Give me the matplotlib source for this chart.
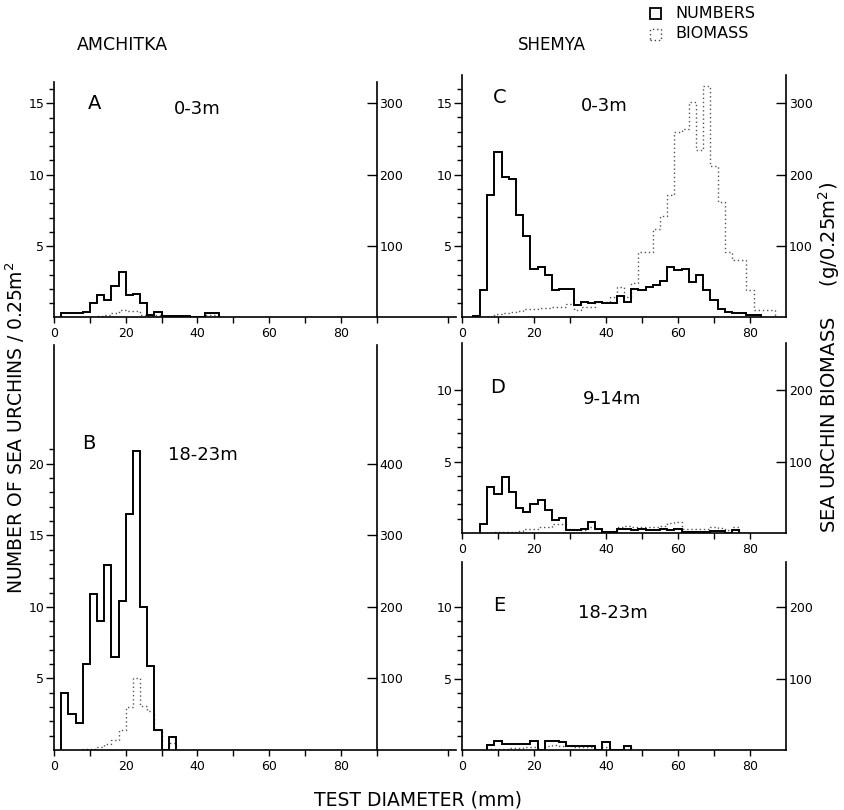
import matplotlib
matplotlib.use('Agg')
import matplotlib.pyplot as plt
from matplotlib.patches import Rectangle
from matplotlib.ticker import FixedLocator, FuncFormatter
import numpy as np

# size classes are 2 mm wide; *_start = lower edge of first class (mm)
# numbers = urchins / 0.25 m2, biomass = g / 0.25 m2
a_num_start = 2
a_numbers = [0.3, 0.3, 0.35, 0.4, 1.0, 1.6, 1.2, 2.2, 3.2, 1.6, 1.65, 1.0,
             0.2, 0.4, 0.1, 0.1, 0.1, 0.1, 0, 0, 0.3, 0.3]
a_bio_start = 10
a_biomass = [1, 2, 3, 7, 11, 9, 9, 4, 2, 4, 1, 1, 1, 1, 0, 0, 4, 4]

b_num_start = 2
b_numbers = [4.0, 2.5, 1.9, 6.0, 10.9, 9.0, 12.9, 6.5, 10.4, 16.5, 20.9, 10.0,
             5.9, 1.4, 0, 0.9]
b_bio_start = 8
b_biomass = [1, 2, 4, 8, 14, 28, 60, 100, 62, 55, 28, 0, 10]

c_num_start = 3
c_numbers = [0.1, 1.9, 8.6, 11.6, 9.8, 9.7, 7.2, 5.7, 3.4, 3.5, 3.0, 1.9, 2.0,
             2.0, 0.85, 1.1, 1.0, 1.05, 1.0, 1.0, 1.5, 1.1, 2.0, 1.9, 2.1, 2.3,
             2.55, 3.5, 3.3, 3.4, 2.45, 3.0, 1.9, 1.2, 0.6, 0.4, 0.3, 0.3, 0.15, 0.15]
c_bio_start = 7
c_biomass = [1, 5, 6, 8, 9, 12, 12, 13, 13, 14, 14, 19, 11, 15, 15, 22, 22, 29,
             42, 29, 48, 91, 92, 124, 142, 172, 260, 264, 302, 234, 324, 212,
             162, 92, 80, 80, 38, 10, 10, 10]

d_num_start = 5
d_numbers = [0.6, 3.25, 2.75, 3.9, 2.9, 1.75, 1.45, 2.0, 2.3, 1.6, 0.9, 1.05,
             0.2, 0.2, 0.3, 0.75, 0.3, 0.1, 0.1, 0.25, 0.3, 0.2, 0.25, 0.2, 0.2,
             0.25, 0.2, 0.25, 0.1, 0.1, 0.1, 0.1, 0.15, 0.15, 0.0, 0.2]
d_bio_start = 7
d_biomass = [0.5, 1, 1.5, 2, 3, 5, 6, 8, 9, 12, 12, 6, 4, 4, 8, 5, 2, 3, 8, 10,
             8, 9, 8, 9, 10, 14, 16, 6, 5, 6, 6, 8, 7, 4, 8]

e_num_start = 7
e_numbers = [0.35, 0.65, 0.4, 0.45, 0.45, 0.45, 0.63, 0, 0.63, 0.63, 0.55, 0.3,
             0.25, 0.25, 0.25, 0, 0.55, 0, 0, 0.3]
e_bio_start = 7
e_biomass = [1, 2, 2, 3, 3, 4, 4, 0, 6, 7, 6, 5, 4, 4, 4, 0, 4, 0, 0, 5]

W, H = 844, 810
fig = plt.figure(figsize=(W / 100, H / 100), dpi=100)
plt.rcParams['font.family'] = ['DejaVu Sans']

no_zero = FuncFormatter(lambda v, p: '' if abs(v) < 1e-9 else '%d' % v)


def px_rect(x0, x1, ytop, ybot):
    return [x0 / W, 1 - ybot / H, (x1 - x0) / W, (ybot - ytop) / H]


def panel(rect, xmax, ymax, numbers, n_start, biomass, b_start,
          letter, letter_xy, depth, depth_xy, major, minor_top, right_ticks):
    ax = fig.add_axes(rect)
    ax2 = ax.twinx()
    ax2.set_zorder(ax.get_zorder() - 1)
    ax.patch.set_visible(False)

    edges_n = n_start + 2 * np.arange(len(numbers) + 1)
    edges_b = b_start + 2 * np.arange(len(biomass) + 1)
    ax.stairs(numbers, edges_n, color='black', lw=1.4)
    ax2.stairs(biomass, edges_b, color='#555555', lw=1.0, linestyle=(0, (1, 2)))

    ax.set_xlim(0, xmax)
    ax.set_ylim(0, ymax)
    ax2.set_ylim(0, ymax * 20)

    for s in ['top', 'right']:
        ax.spines[s].set_visible(False)
    for s in ['top', 'left', 'bottom']:
        ax2.spines[s].set_visible(False)
    ax2.spines['right'].set_position(('data', 90))
    for sp in [ax.spines['left'], ax.spines['bottom'], ax2.spines['right']]:
        sp.set_linewidth(1.2)

    ax.xaxis.set_major_locator(FixedLocator([0, 20, 40, 60, 80]))
    ax.xaxis.set_minor_locator(FixedLocator([m for m in range(10, 120, 10)
                                             if m % 20 and m < xmax]))
    ax.yaxis.set_major_locator(FixedLocator(major))
    ax.yaxis.set_minor_locator(FixedLocator(list(range(1, minor_top + 1))))
    ax.yaxis.set_major_formatter(no_zero)
    ax2.yaxis.set_major_locator(FixedLocator(right_ticks))
    ax2.yaxis.set_major_formatter(no_zero)

    ax.tick_params(axis='y', which='major', direction='out', length=6, width=1,
                   labelsize=9, pad=1)
    ax.tick_params(axis='y', which='minor', direction='out', length=3.5, width=1)
    ax.tick_params(axis='x', which='both', direction='out', length=4, width=1,
                   labelsize=9, pad=3)
    ax2.tick_params(axis='y', direction='in', length=7, width=1, labelsize=9, pad=2)

    ax.text(letter_xy[0], letter_xy[1], letter, fontsize=14, ha='center', va='center')
    ax.text(depth_xy[0], depth_xy[1], depth, fontsize=13, ha='center', va='center')
    return ax


left_max = 112
panel(px_rect(54, 54 + left_max * 3.585, 82, 317.5), left_max, 16.5,
      a_numbers, a_num_start, a_biomass, a_bio_start,
      'A', (11.4, 15.0), '0-3m', (39.9, 14.6),
      [5, 10, 15], 16, [100, 200, 300])
panel(px_rect(54, 54 + left_max * 3.585, 345, 750), left_max, 28.3,
      b_numbers, b_num_start, b_biomass, b_bio_start,
      'B', (9.8, 21.4), '18-23m', (41.6, 20.6),
      [5, 10, 15, 20], 21, [100, 200, 300, 400])
panel(px_rect(462, 786, 75, 317.5), 90, 16.96,
      c_numbers, c_num_start, c_biomass, c_bio_start,
      'C', (10.6, 15.4), '0-3m', (39.4, 14.8),
      [5, 10, 15], 16, [100, 200, 300])
panel(px_rect(462, 786, 343, 533), 90, 13.3,
      d_numbers, d_num_start, d_biomass, d_bio_start,
      'D', (10.0, 10.2), '9-14m', (41.7, 9.35),
      [5, 10], 10, [100, 200])
panel(px_rect(462, 786, 562, 750), 90, 13.15,
      e_numbers, e_num_start, e_biomass, e_bio_start,
      'E', (10.3, 10.1), '18-23m', (41.9, 9.6),
      [5, 10], 10, [100, 200])

# site titles
fig.text(122 / W, 1 - 45 / H, 'AMCHITKA', fontsize=12.5, ha='center', va='center')
fig.text(552 / W, 1 - 45 / H, 'SHEMYA', fontsize=12, ha='center', va='center')

# axis titles
fig.text(15 / W, 1 - 428 / H, 'NUMBER OF SEA URCHINS / 0.25m$^2$', rotation=90,
         fontsize=13.5, ha='center', va='center')
fig.text(829 / W, 1 - 357 / H, 'SEA URCHIN BIOMASS     (g/0.25m$^2$)', rotation=90,
         fontsize=14, ha='center', va='center')
fig.text(418 / W, 1 - 800 / H, 'TEST DIAMETER (mm)', fontsize=13.5,
         ha='center', va='center')

# legend
fig.add_artist(Rectangle((650 / W, 1 - 19 / H), 11 / W, 11 / H,
                         transform=fig.transFigure, fill=False, lw=1.3, ec='black'))
fig.add_artist(Rectangle((650 / W, 1 - 40 / H), 11 / W, 11 / H,
                         transform=fig.transFigure, fill=False, lw=1.0,
                         ec='#444444', linestyle=(0, (1, 2))))
fig.text(675 / W, 1 - 14 / H, 'NUMBERS', fontsize=11.5, va='center')
fig.text(675 / W, 1 - 34 / H, 'BIOMASS', fontsize=11.5, va='center')

fig.savefig('out.png', dpi=100)
